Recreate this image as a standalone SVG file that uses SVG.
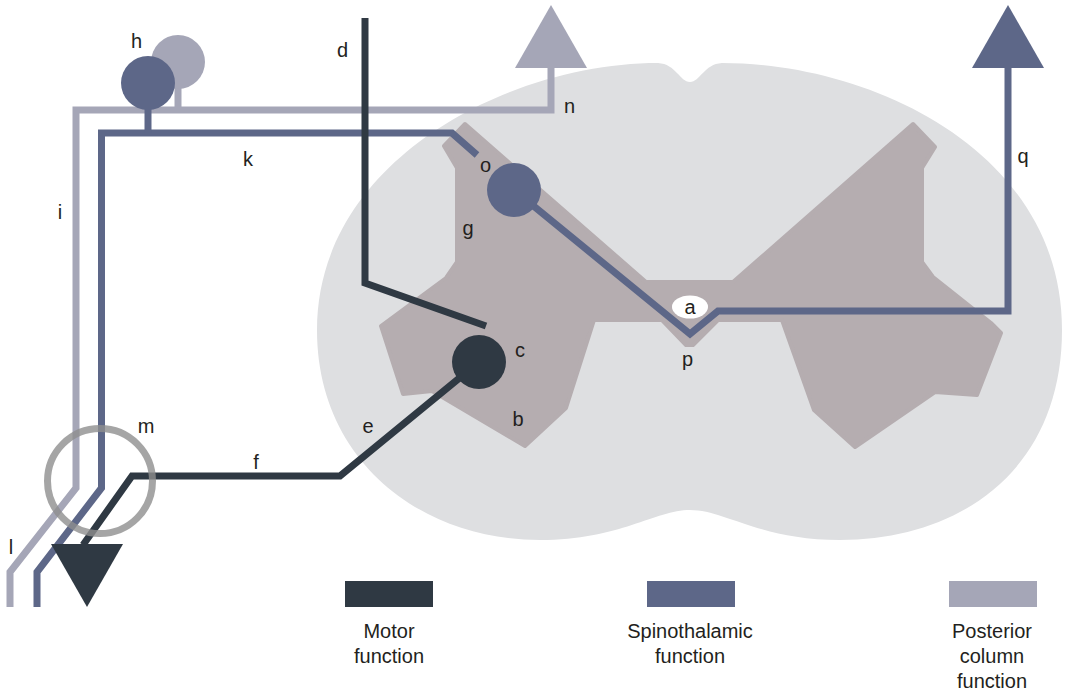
<svg xmlns="http://www.w3.org/2000/svg" width="1066" height="691" viewBox="0 0 1066 691">
  <style>
    .lbl { font-family: "Liberation Sans", Arial, sans-serif; font-size: 20px; fill: #231f20; text-anchor: middle; }
    .motor { fill: none; stroke: #2f3943; stroke-width: 7; stroke-linejoin: miter; }
    .spino { fill: none; stroke: #5d6788; stroke-width: 7; stroke-linejoin: miter; }
    .post { fill: none; stroke: #a5a6b7; stroke-width: 7; stroke-linejoin: miter; }
  </style>
  <rect width="1066" height="691" fill="#ffffff"/>

  <!-- spinal cord cross-section -->
  <g id="cord">
    <path d="M 690,82 C 700,82 704,64 722,63 C 870,63 1062,150 1062,330 C 1062,470 960,540 840,540 C 760,540 725,510 690,510 C 655,510 620,540 540,540 C 420,540 317,460 317,330 C 317,160 510,63 658,63 C 676,64 680,82 690,82 Z" fill="#dedfe1"/>
    <path d="M 465,124 L 444,146 L 457,168 L 457,262 L 446,278 L 381,326 L 403,394 L 432,391 L 525,446 L 566,408 L 594,320 L 662,320 L 686,345 L 693,345 L 718,320 L 782,320 L 814,410 L 855,447 L 935,392 L 977,395 L 1001,333 L 991,323 L 933,277 L 922,262 L 922,168 L 935,147 L 913,124 L 733,282 L 646,282 Z" fill="#b5adb0" stroke="#b5adb0" stroke-width="4" stroke-linejoin="round"/>
  </g>

  <!-- pathways -->
  <g id="connectors">
    <path class="post" d="M 10,607 L 10,572 L 76,488 L 76,110 L 551,110 L 551,66"/>
    <path class="post" d="M 178,62 L 178,110"/>
    <path class="spino" d="M 37,607 L 37,572 L 101.5,488 L 101.5,133 L 452,133 L 477,155"/>
    <path class="spino" d="M 148,83 L 148,133"/>
    <path class="spino" d="M 514,190 L 690,334 L 718,311 L 1008,311 L 1008,66"/>
    <path class="motor" d="M 365,18 L 365,283 L 486,326"/>
    <path class="motor" d="M 479,362 L 340,476 L 132,476 L 83,545"/>
  </g>

  <g id="node-n">
    <polygon points="515,68 587,68 551,5" fill="#a5a6b7"/>
  </g>
  <g id="node-q">
    <polygon points="972,68 1044,68 1008,5" fill="#5d6788"/>
  </g>
  <g id="node-h">
    <circle cx="178" cy="62" r="27" fill="#a5a6b7"/>
    <circle cx="148" cy="83" r="27" fill="#5d6788"/>
  </g>
  <g id="node-o">
    <circle cx="514" cy="190" r="27" fill="#5d6788"/>
  </g>
  <g id="node-c">
    <circle cx="479" cy="362" r="27" fill="#2f3943"/>
  </g>
  <g id="node-motor-end">
    <polygon points="51,544 123,544 87,607" fill="#2f3943"/>
  </g>
  <g id="node-a">
    <ellipse cx="690" cy="307" rx="18" ry="11.5" fill="#ffffff"/>
    <text class="lbl" x="690" y="314">a</text>
  </g>
  <g id="node-m">
    <circle cx="100" cy="481" r="52.5" fill="none" stroke="#8e8e8e" stroke-width="7" opacity="0.8"/>
  </g>

  <!-- letter labels -->
  <g id="labels">
    <text class="lbl" x="136.5" y="48">h</text>
    <text class="lbl" x="342.5" y="57">d</text>
    <text class="lbl" x="569.5" y="113">n</text>
    <text class="lbl" x="248" y="166">k</text>
    <text class="lbl" x="485.5" y="172">o</text>
    <text class="lbl" x="468" y="235">g</text>
    <text class="lbl" x="60" y="219">i</text>
    <text class="lbl" x="1023" y="163">q</text>
    <text class="lbl" x="687.5" y="366">p</text>
    <text class="lbl" x="520" y="357">c</text>
    <text class="lbl" x="518" y="426">b</text>
    <text class="lbl" x="368" y="433">e</text>
    <text class="lbl" x="256" y="469">f</text>
    <text class="lbl" x="146" y="433">m</text>
    <text class="lbl" x="11" y="554">l</text>
  </g>

  <!-- legend -->
  <g id="legend-motor">
    <rect x="345" y="581" width="88" height="26" fill="#2f3943"/>
    <text class="lbl" x="389" y="638">Motor</text>
    <text class="lbl" x="389" y="663">function</text>
  </g>
  <g id="legend-spino">
    <rect x="647" y="581" width="88" height="26" fill="#5d6788"/>
    <text class="lbl" x="690" y="638">Spinothalamic</text>
    <text class="lbl" x="690" y="663">function</text>
  </g>
  <g id="legend-post">
    <rect x="949" y="581" width="88" height="26" fill="#a5a6b7"/>
    <text class="lbl" x="992" y="638">Posterior</text>
    <text class="lbl" x="992" y="663">column</text>
    <text class="lbl" x="992" y="688">function</text>
  </g>
</svg>
